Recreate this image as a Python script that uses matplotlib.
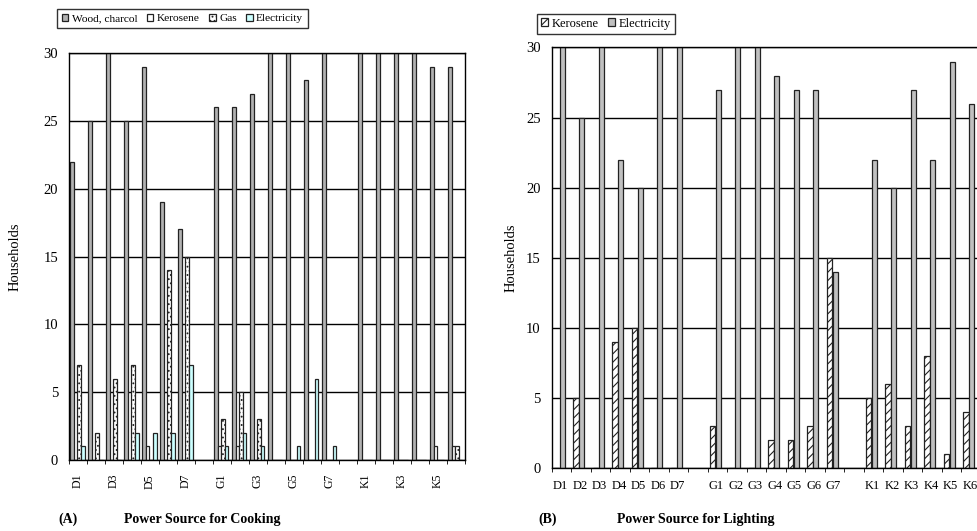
import numpy as np
import matplotlib
matplotlib.use("Agg")
import matplotlib.pyplot as plt

plt.rcParams['font.family'] = ['Liberation Serif', 'DejaVu Serif']
plt.rcParams['hatch.linewidth'] = 0.8

nan = np.nan

# categories (blank slots separate the D / G / K groups)
categories = ['D1', 'D2', 'D3', 'D4', 'D5', 'D6', 'D7', '',
              'G1', 'G2', 'G3', 'G4', 'G5', 'G6', 'G7', '',
              'K1', 'K2', 'K3', 'K4', 'K5', 'K6']

# (A) cooking
cook_wood = [22, 25, 30, 25, 29, 19, 17, nan,
             26, 26, 27, 30, 30, 28, 30, nan,
             30, 30, 30, 30, 29, 29]
cook_kerosene = [0, 0, 0, 0, 1, 0, 0, nan,
                 1, 1, 0, 0, 0, 0, 0, nan,
                 0, 0, 0, 0, 1, 1]
cook_gas = [7, 2, 6, 7, 0, 14, 15, nan,
            3, 5, 3, 0, 0, 0, 0, nan,
            0, 0, 0, 0, 0, 1]
cook_electricity = [1, 0, 0, 2, 2, 2, 7, nan,
                    1, 2, 1, 0, 1, 6, 1, nan,
                    0, 0, 0, 0, 0, 0]

# (B) lighting
light_kerosene = [0, 5, 0, 9, 10, 0, 0, nan,
                  3, 0, 0, 2, 2, 3, 15, nan,
                  5, 6, 3, 8, 1, 4]
light_electricity = [30, 25, 30, 22, 20, 30, 30, nan,
                     27, 30, 30, 28, 27, 27, 14, nan,
                     22, 20, 27, 22, 29, 26]

W, H = 978, 531
fig = plt.figure(figsize=(W / 100, H / 100), dpi=100)

x = np.arange(len(categories))


def style_axes(ax, ylabel_x):
    ax.set_xlim(0, len(categories))
    ax.set_ylim(0, 30)
    ax.set_yticks(range(0, 31, 5))
    ax.yaxis.grid(True, color='black', linewidth=1.0)
    ax.set_axisbelow(True)
    for s in ax.spines.values():
        s.set_linewidth(1.0)
    ax.tick_params(axis='y', length=0, labelsize=10.5, pad=8)
    ax.set_xticks(np.arange(len(categories) + 1), minor=True)
    ax.tick_params(axis='x', which='minor', length=3, direction='out')
    ax.tick_params(axis='x', which='major', length=0)
    ax.set_ylabel('Households', fontsize=10.5)
    ax.yaxis.set_label_coords(ylabel_x, 0.5)


# ---- (A) Power Source for Cooking
axA = fig.add_axes([69.3 / W, 71 / H, 395.7 / W, 407 / H])
bw = 0.2
axA.bar(x + 0.05, cook_wood, bw, align='edge', color='#b2b2b2', edgecolor='#222222', linewidth=0.9)
axA.bar(x + 0.25, cook_kerosene, bw, align='edge', color='white', edgecolor='#222222', linewidth=0.9)
axA.bar(x + 0.45, cook_gas, bw, align='edge', color='white', edgecolor='#222222', linewidth=0.9, hatch='....')
axA.bar(x + 0.65, cook_electricity, bw, align='edge', color='#ccffff', edgecolor='#222222', linewidth=0.9)
style_axes(axA, -0.12)
axA.set_xticks(x[::2] + 0.45)
axA.set_xticklabels(categories[::2], rotation=90, fontsize=8.5)
axA.tick_params(axis='x', which='major', pad=10)

legA = fig.legend(handles=axA.containers, labels=['Wood, charcol', 'Kerosene', 'Gas', 'Electricity'],
                  loc='upper left', bbox_to_anchor=(57 / W, 1 - 9 / H), ncol=4,
                  fontsize=8.2, frameon=True, fancybox=False, edgecolor='black',
                  handlelength=0.6, handleheight=0.6, handletextpad=0.3,
                  columnspacing=0.8, borderpad=0.4, borderaxespad=0)
legA.get_frame().set_linewidth(1.0)

# ---- (B) Power Source for Lighting
axB = fig.add_axes([551.7 / W, 63.3 / H, 429 / W, 420.2 / H])
bw2 = 0.28
axB.bar(x + 0.1, light_kerosene, bw2, align='edge', color='white', edgecolor='#222222', linewidth=0.9, hatch='////')
axB.bar(x + 0.4, light_electricity, bw2, align='edge', color='#c0c0c0', edgecolor='#222222', linewidth=0.9)
style_axes(axB, -0.08)
axB.set_xticks(x + 0.45)
axB.set_xticklabels(categories, fontsize=9)
axB.tick_params(axis='x', which='major', pad=9)

legB = fig.legend(handles=axB.containers, labels=['Kerosene', 'Electricity'],
                  loc='upper left', bbox_to_anchor=(537 / W, 1 - 14 / H), ncol=2,
                  fontsize=9, frameon=True, fancybox=False, edgecolor='black',
                  handlelength=0.6, handleheight=0.6, handletextpad=0.3,
                  columnspacing=0.7, borderpad=0.3, borderaxespad=0)
legB.get_frame().set_linewidth(1.0)

# bottom captions
fig.text(68 / W, 1 - 519 / H, '(A)', ha='center', va='center', fontsize=10, fontweight='bold')
fig.text(202 / W, 1 - 519 / H, 'Power Source for Cooking', ha='center', va='center', fontsize=10, fontweight='bold')
fig.text(548 / W, 1 - 519 / H, '(B)', ha='center', va='center', fontsize=10, fontweight='bold')
fig.text(696 / W, 1 - 519 / H, 'Power Source for Lighting', ha='center', va='center', fontsize=10, fontweight='bold')

fig.savefig('out.png', dpi=100)
